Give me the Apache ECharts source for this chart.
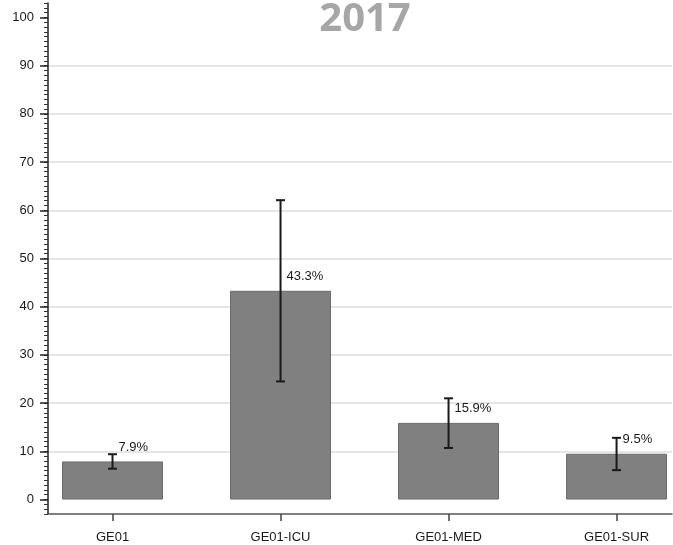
<!DOCTYPE html>
<html>
<head>
<meta charset="utf-8">
<script src="https://cdn.jsdelivr.net/npm/echarts@6/dist/echarts.min.js"></script>
<style>
  html, body { margin: 0; padding: 0; background: #fff; }
  #chart { width: 673px; height: 545px; }
</style>
</head>
<body>
<div id="chart"></div>
<script>
// Units, their point estimates and 95% intervals
const categories = ['GE01', 'GE01-ICU', 'GE01-MED', 'GE01-SUR'];
const values = [7.9, 43.3, 15.9, 9.5];
const lower = [6.4, 24.5, 10.7, 6.1];
const upper = [9.4, 62.1, 21.0, 12.8];
const yTicks = [0, 10, 20, 30, 40, 50, 60, 70, 80, 90, 100];
const gridValues = [10, 20, 30, 40, 50, 60, 70, 80, 90];
const titleText = '2017';

const positions = categories.map((c, i) => i + 1);

const barData = values.map((v, i) => [positions[i], v]);
const errData = values.map((v, i) => [positions[i], lower[i], upper[i], v]);

const FONT = '"Liberation Sans", Arial, sans-serif';
const INK = '#1a1a1a';

const chart = echarts.init(document.getElementById('chart'), null, { renderer: 'canvas' });

chart.setOption({
  animation: false,
  backgroundColor: '#ffffff',
  graphic: [{
    type: 'text',
    x: 365, y: 20,
    style: {
      text: titleText,
      x: 0, y: 0,
      align: 'center', verticalAlign: 'middle',
      font: 'bold 40px "Open Sans", sans-serif',
      fill: '#a6a6a6'
    }
  }],
  grid: { left: 48, right: 1, top: 3, bottom: 31, containLabel: false },
  xAxis: {
    type: 'value',
    min: 0.616,
    max: 4.33,
    axisLine: { show: true, onZero: false, lineStyle: { color: '#555', width: 1.5 } },
    axisTick: { show: true, customValues: positions, length: 7, lineStyle: { color: '#444', width: 1.5 } },
    axisLabel: {
      show: true,
      customValues: positions,
      formatter: v => categories[Math.round(v) - 1] || '',
      color: INK, fontFamily: FONT, fontSize: 13, margin: 17
    },
    splitLine: { show: false }
  },
  yAxis: [
    {
      // axis line with fine unit ticks
      type: 'value',
      min: -3, max: 103, interval: 1,
      position: 'left',
      axisLine: { show: true, onZero: false, lineStyle: { color: '#222', width: 1.5 } },
      axisTick: { show: true, length: 4, lineStyle: { color: '#333', width: 1 } },
      axisLabel: { show: false },
      splitLine: { show: false }
    },
    {
      // labelled ticks every 10
      type: 'value',
      min: -3, max: 103, interval: 1,
      position: 'left',
      axisLine: { show: false, onZero: false },
      axisTick: { show: true, customValues: yTicks, length: 8, lineStyle: { color: '#222', width: 1.5 } },
      axisLabel: {
        show: true, customValues: yTicks,
        color: INK, fontFamily: FONT, fontSize: 13, margin: 14
      },
      splitLine: { show: false }
    }
  ],
  series: [
    {
      // horizontal reference lines, kept under the bars
      type: 'line',
      data: [],
      z: 0,
      silent: true,
      markLine: {
        z: 0,
        silent: true,
        symbol: ['none', 'none'],
        label: { show: false },
        lineStyle: { color: '#e6e6e6', width: 2, type: 'solid' },
        data: gridValues.map(v => ({ yAxis: v }))
      }
    },
    {
      type: 'bar',
      data: barData,
      barWidth: 101,
      z: 2,
      itemStyle: { color: '#808080', borderColor: '#6a6a6a', borderWidth: 1 }
    },
    {
      type: 'custom',
      z: 3,
      data: errData,
      encode: { x: 0, y: [1, 2] },
      renderItem: function (params, api) {
        const x = api.value(0);
        const top = api.coord([x, api.value(2)]);
        const bot = api.coord([x, api.value(1)]);
        const mid = api.coord([x, api.value(3)]);
        const half = 4.5;
        const ls = { stroke: INK, lineWidth: 2 };
        return {
          type: 'group',
          children: [
            { type: 'line', shape: { x1: top[0], y1: top[1], x2: bot[0], y2: bot[1] }, style: ls },
            { type: 'line', shape: { x1: top[0] - half, y1: top[1], x2: top[0] + half, y2: top[1] }, style: ls },
            { type: 'line', shape: { x1: bot[0] - half, y1: bot[1], x2: bot[0] + half, y2: bot[1] }, style: ls },
            {
              type: 'text',
              style: {
                text: api.value(3).toFixed(1) + '%',
                x: mid[0] + 6, y: mid[1] - 14.5,
                align: 'left', verticalAlign: 'middle',
                font: '13px ' + FONT,
                fill: INK
              }
            }
          ]
        };
      }
    }
  ]
});
</script>
</body>
</html>
